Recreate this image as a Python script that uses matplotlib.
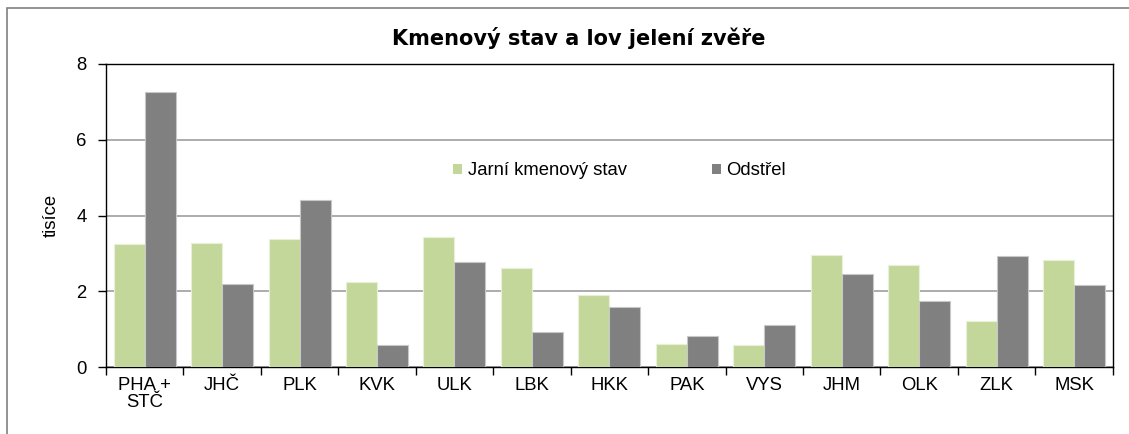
import numpy as np
import matplotlib.pyplot as plt
from matplotlib.patches import Rectangle, Patch

plt.rcParams['font.family'] = ['Liberation Sans', 'DejaVu Sans']

kraje = ['PHA +\nSTČ', 'JHČ', 'PLK', 'KVK', 'ULK', 'LBK', 'HKK',
         'PAK', 'VYS', 'JHM', 'OLK', 'ZLK', 'MSK']
jarni_stav = [3.25, 3.28, 3.37, 2.25, 3.43, 2.62, 1.91,
              0.61, 0.58, 2.97, 2.69, 1.22, 2.82]
odstrel = [7.25, 2.20, 4.41, 0.59, 2.77, 0.93, 1.59,
           0.82, 1.11, 2.45, 1.74, 2.92, 2.17]

green = '#C4D79B'
gray = '#808080'
fs = 13.3

fig = plt.figure(figsize=(11.29, 4.34), dpi=100)
ax = fig.add_axes([106 / 1129, 1 - 367 / 434, (1112.7 - 106) / 1129, 303 / 434])

# outer chart frame (only left and top visible in the original)
fig.patches.append(Rectangle((7 / 1129, -0.1), 1.2, 1 - 8 / 434 + 0.1,
                             transform=fig.transFigure, fill=False,
                             edgecolor='#808080', linewidth=1.2))

x = np.arange(len(kraje))
w = 0.4
ax.bar(x - w / 2, jarni_stav, w, color=green, edgecolor='#E8F0D8', linewidth=0.8,
       label='Jarní kmenový stav', zorder=3)
ax.bar(x + w / 2, odstrel, w, color=gray, edgecolor='#C8C8C8', linewidth=0.8,
       label='Odstřel', zorder=3)

ax.set_xlim(-0.5, len(kraje) - 0.5)
ax.set_ylim(0, 8)
ax.set_yticks([0, 2, 4, 6, 8])
ax.set_xticks(x)
ax.set_xticklabels(kraje)
ax.set_xticks(np.arange(-0.5, len(kraje)), minor=True)
ax.tick_params(axis='x', which='major', length=0, labelsize=fs, pad=7)
ax.tick_params(axis='x', which='minor', length=6, width=1, direction='out')
ax.tick_params(axis='y', length=6, width=1, labelsize=fs, pad=8)
for lbl in ax.get_xticklabels():
    lbl.set_linespacing(1.0)

ax.yaxis.grid(True, color='#A6A6A6', linewidth=1.3, zorder=0)
ax.set_axisbelow(True)
for s in ax.spines.values():
    s.set_linewidth(1.0)
    s.set_color('black')

ax.set_ylabel('tisíce', fontsize=fs, labelpad=12)
fig.text(0.513, 1 - 38 / 434, 'Kmenový stav a lov jelení zvěře', ha='center',
         va='center', fontsize=15, fontweight='bold',
         family=['DejaVu Sans'])

handles = [Patch(facecolor=green, edgecolor='none'),
           Patch(facecolor=gray, edgecolor='none')]
ax.legend(handles, ['Jarní kmenový stav', 'Odstřel'], ncol=2, frameon=False,
          loc='center', bbox_to_anchor=(0.51, 0.647), fontsize=fs,
          handlelength=0.5, handleheight=0.5, handletextpad=0.3,
          columnspacing=4.6)

fig.savefig('out.png', dpi=100)
